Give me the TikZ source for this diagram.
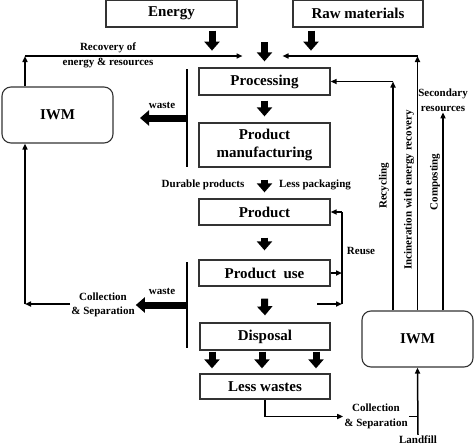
\documentclass[tikz,border=0pt]{standalone}
\usepackage{fontspec}
\setmainfont{Liberation Serif}
\usetikzlibrary{arrows.meta,calc}
\tikzset{
  box/.style={draw=black!80, line width=1.3pt, minimum width=131pt, inner sep=2pt,
              font=\bfseries\fontsize{15}{18}\selectfont, align=center},
  iwm/.style={draw=black!80, line width=1.1pt, rounded corners=9pt, minimum width=111pt,
              minimum height=56pt, font=\bfseries\fontsize{15}{18}\selectfont},
  lbl/.style={font=\bfseries\fontsize{11}{14.5}\selectfont, inner sep=1pt, align=center},
  flow/.style={-{Triangle[length=6pt,width=5pt]}, line width=1.5pt},
  fat/.style={-{Triangle[length=9pt,width=15pt]}, line width=7pt},
  bar/.style={line width=2pt},
}
\begin{document}
\begin{tikzpicture}[x=1pt,y=-1pt]
        \useasboundingbox (0,0) rectangle (474,447);
        \node[box,minimum height=27pt] (energy) at (171.5,13.5) {Energy};
        \node[box,minimum width=130pt,minimum height=27pt] (raw) at (358,13.5) {Raw materials};
        \node[box,minimum height=27pt] (proc) at (264.5,81.5) {Processing};
        \node[box,minimum height=44pt] (manu) at (264.5,145) {Product\\manufacturing};
        \node[box,minimum height=26pt] (prod) at (264.5,212) {Product};
        \node[box,minimum height=26pt] (use) at (264.5,273) {Product\ \ use};
        \node[box,minimum width=130pt,minimum height=27pt] (disp) at (265,336.5) {Disposal};
        \node[box,minimum width=130pt,minimum height=25pt] (less) at (265,386.5) {Less wastes};
        \node[iwm] (iwmL) at (57.5,115) {IWM};
        \node[iwm] (iwmR) at (417.5,339) {IWM};
        \node[lbl] (rec) at (108,55.5) {Recovery of\\energy \& resources};
        \node[lbl] (wasteU) at (162,105) {waste};
        \node[lbl] (wasteD) at (162,291) {waste};
        \node[lbl] (collL) at (103,305) {Collection\\\& Separation};
        \node[lbl] (dur) at (203,185) {Durable products};
        \node[lbl] (pack) at (315,185) {Less packaging};
        \node[lbl] (reuse) at (361,251) {Reuse};
        \node[lbl] (sec) at (443,100) {Secondary\\resources};
        \node[lbl,rotate=90] (recy) at (384,186) {Recycling};
        \node[lbl,rotate=90] (inc) at (409,190) {Incineration with energy recovery};
        \node[lbl,rotate=90] (comp) at (435,182) {Composting};
        \node[lbl] (collR) at (376,416.5) {Collection\\\& Separation};
        \node[lbl] (land) at (418,440) {Landfill};
        % inputs
        \draw[fat] ([xshift=40.5pt,yshift=-3pt]energy.south) -- ++(0,20);
        \draw[fat] ([xshift=-47pt,yshift=-3pt]raw.south) -- ++(0,20);
        \draw[fat] ([yshift=25pt]proc.north) -- ([yshift=6pt]proc.north);
        % main chain
        \draw[fat] ([yshift=-5pt]proc.south) -- ([yshift=6pt]manu.north);
        \draw[fat] ([yshift=-12pt]manu.south) -- ([yshift=6pt]prod.north);
        \draw[fat] ([yshift=-12pt]prod.south) -- ([yshift=9pt]use.north);
        \draw[fat] ([yshift=-12pt]use.south) -- ([yshift=7pt]disp.north);
        \foreach \dx in {-53,-3,51}
          \draw[fat] ([xshift=\dx pt,yshift=-1pt]disp.south) -- ([xshift=\dx pt,yshift=5pt]less.north);
        % waste bars
        \coordinate (bU) at (187,118);
        \coordinate (bD) at (187,305);
        \draw[bar] (187,69) -- (187,167);
        \draw[bar] (187,262) -- (187,348);
        \draw[fat] (bU) -- ++(-47,0);
        \draw[fat] (bD) -- (collL.east |- bD);
        % left loop
        \coordinate (rl) at (25,56);
        \coordinate (cl) at (25,304);
        \coordinate (mid) at (proc.north |- rl);
        \draw[flow] (collL.west |- cl) -- (cl);
        \draw[flow] (cl) -- (cl |- iwmL.south);
        \draw[flow] (cl |- iwmL.north) -- (rl);
        \draw[flow] (rl) -- ([xshift=-22pt]mid);
        % right side
        \coordinate (rr) at (417.5,56);
        \coordinate (rc) at (393,81.5);
        \draw[flow] (iwmR.north) -- (rr);
        \draw[flow] (rr) -- ([xshift=18pt]mid);
        \draw[flow] (rc |- iwmR.north) -- (rc);
        \draw[flow] (rc) -- (proc.east);
        \draw[flow] (sec.south |- iwmR.north) -- (sec.south);
        % reuse
        \coordinate (rt) at (342,212);
        \coordinate (rb) at (342,304);
        \draw[line width=1.5pt] (rt) -- (rb);
        \draw[flow] (rt) -- (prod.east);
        \draw[flow] (use.east) -- (use.east -| rt);
        \draw[flow] ([xshift=-25pt]rb) -- (rb);
        % collection and landfill
        \draw[flow] (less.south) |- (collR.west);
        \draw[line width=1.5pt] (collR.east) -- (collR.east -| iwmR.south);
        \draw[flow,{Triangle[length=6pt,width=5pt]}-] (iwmR.south) -- (land.north);
      \end{tikzpicture}
\end{document}
